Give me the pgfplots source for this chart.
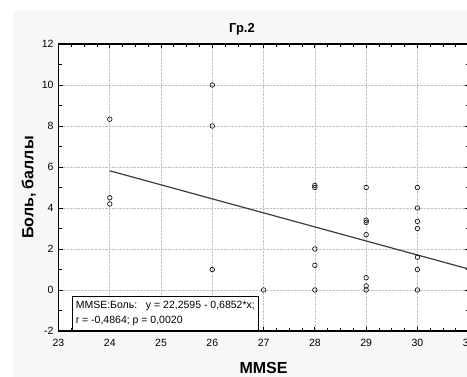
\documentclass[border=0pt]{standalone}
\usepackage{fontspec}
\setmainfont{Liberation Sans}
\usepackage{pgfplots}
\pgfplotsset{compat=1.18}
\definecolor{panel}{RGB}{247,247,247}
\definecolor{gridc}{RGB}{195,195,195}
\definecolor{linec}{RGB}{60,60,60}
\begin{document}
\begin{tikzpicture}[x=1pt,y=1pt]
\useasboundingbox (0,0) rectangle (467,377);
\fill[panel] (13,0) rectangle (467,366);
\begin{axis}[
  at={(58.5pt,46pt)}, anchor=south west,
  scale only axis, width=410.2pt, height=287pt,
  xmin=23, xmax=31, ymin=-2, ymax=12,
  xtick={23,...,31}, ytick={-2,0,...,12},
  minor x tick num=3, minor y tick num=1,
  tick align=inside,
  major tick length=4pt, minor tick length=3pt,
  grid=major, major grid style={densely dotted, gridc, line width=0.6pt},
  axis line style={line width=1.6pt, black},
  tick style={black, line width=0.8pt},
  axis background/.style={fill=white},
  tick label style={font=\fontsize{10.5}{12}\selectfont},
  xticklabel style={yshift=-4.5pt},
  yticklabel style={xshift=-1.5pt},
  /pgf/number format/assume math mode=true,
  /pgf/number format/use comma,
  clip=false,
]
\addplot[only marks, mark=o, mark size=2.3pt, mark options={line width=0.6pt, black}] coordinates {
(24,8.33) (24,4.5) (24,4.2)
(26,10) (26,8) (26,1)
(27,0)
(28,5.1) (28,5.0) (28,2) (28,1.2) (28,0)
(29,5) (29,3.4) (29,3.3) (29,2.7) (29,0.6) (29,0.2) (29,0)
(30,5) (30,4) (30,3.35) (30,3) (30,1.6) (30,1) (30,0)
};
\addplot[linec, line width=1.2pt] coordinates {(24,5.8147) (31,1.0231)};
\node[draw=black, line width=0.9pt, fill=white, anchor=south west, align=left,
      inner xsep=3.5pt, inner ysep=4.5pt, font=\fontsize{10.5}{15.5}\selectfont]
  at (axis cs:23.26,-2) {MMSE:Боль:\ \ \ y = 22,2595 - 0,6852*x;\\r = -0,4864; p = 0,0020};
\end{axis}
\node[anchor=base, font=\bfseries\fontsize{13}{15}\selectfont] at (242,344.7) {Гр.2};
\node[anchor=base, font=\bfseries\fontsize{16}{18}\selectfont] at (263.5,3) {MMSE};
\node[anchor=base, rotate=90, font=\bfseries\fontsize{16}{18}\selectfont] at (33.3,189.5) {Боль, баллы};
\end{tikzpicture}
\end{document}
